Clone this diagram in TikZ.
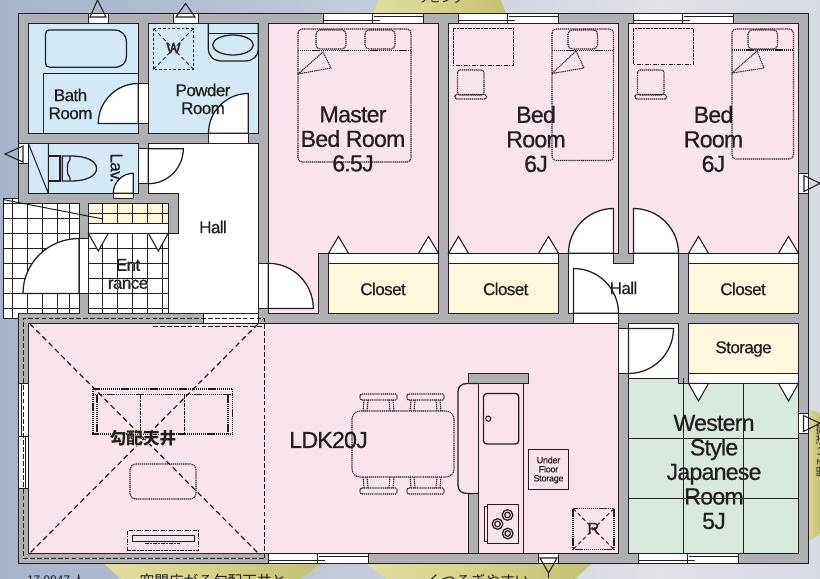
\documentclass[tikz,border=0pt]{standalone}
\usepackage{fontspec}
\setmainfont{Liberation Sans}
\newfontfamily\cjk{Noto Sans CJK JP}
\usetikzlibrary{calc}
\definecolor{ink}{HTML}{231F20}
\definecolor{wallc}{HTML}{AEB0B3}
\definecolor{pinkc}{HTML}{F9E4EE}
\definecolor{bluec}{HTML}{D3E9F5}
\definecolor{yelc}{HTML}{FDF8DC}
\definecolor{grnc}{HTML}{D9E8DD}
\definecolor{bga}{HTML}{8E9DBC}
\definecolor{bgb}{HTML}{AFBACE}
\definecolor{bgc}{HTML}{DFE1E6}
\definecolor{bgd}{HTML}{D3D7E0}
\definecolor{bge}{HTML}{A3B1CA}
\definecolor{bla}{HTML}{EEEBB4}
\definecolor{blb}{HTML}{D4D28C}
\definecolor{blc}{HTML}{B0AE55}
\pgfdeclarehorizontalshading{bgshade}{100bp}{color(0bp)=(bga); color(33bp)=(bgb); color(65bp)=(bgc); color(80bp)=(bgd); color(100bp)=(bge)}
\pgfdeclarehorizontalshading{blobshade}{100bp}{color(0bp)=(bla); color(50bp)=(blb); color(100bp)=(blc)}
\tikzset{
 x=0.75pt,y=-0.75pt,
 room/.style={draw=ink,line width=0.75pt},
 thin line/.style={draw=ink,line width=0.6pt},
 doorleaf/.style={draw=ink,fill=white,line width=0.95pt},
 tri/.style={draw=ink,fill=white,line width=0.8pt,line join=miter},
 furn/.style={draw=ink,line width=0.8pt,dash pattern=on 0.9pt off 0.55pt},
 dashdot/.style={draw=ink,line width=0.6pt,dash pattern=on 3pt off 1pt on 1pt off 1pt},
 slope/.style={draw=ink,line width=0.9pt,dash pattern=on 4pt off 2.6pt},
 dash thin/.style={draw=ink,line width=0.6pt,dash pattern=on 3.6pt off 1.6pt},
 lbl/.style={text=ink,align=center,inner sep=0pt,font=\fontsize{17.4}{18.4}\selectfont\addfontfeature{LetterSpace=-3.5,FakeBold=0.55}},
 sml/.style={text=ink,align=center,inner sep=0pt,font=\fontsize{12.8}{13.5}\selectfont\addfontfeature{LetterSpace=-3.5,FakeBold=0.55}},
 tinylbl/.style={text=ink,align=center,inner sep=0pt,font=\fontsize{6.8}{6.8}\selectfont\addfontfeature{LetterSpace=-3,FakeBold=0.4}},
}
\newcommand\doorq[6]{\path[doorleaf] (#1,#2) -- (#3,#4) .. controls ({#3+.5523*(#5-#1)},{#4+.5523*(#6-#2)}) and ({#5+.5523*(#3-#1)},{#6+.5523*(#4-#2)}) .. (#5,#6) -- cycle;}
\newcommand\winh[3]{\path[room,fill=white] (#1,#3) rectangle (#2,#3+10);
 \pgfmathsetmacro\wm{(#1+#2)/2}
 \draw[thin line] (#1,#3+7.3) -- (\wm+6,#3+7.3) (\wm,#3+2.8) -- (#2,#3+2.8) (\wm-1,#3) -- (\wm-1,#3+10);}
\newcommand\rrect[5]{\draw[furn,rounded corners=#5] (#1,#2) rectangle (#3,#4);}
\newcommand\desk[3]{\draw[dashdot] (#1,28) rectangle (#1+60,#3);
 \rrect{#2}{70}{#2+26.5}{95}{2pt}
 \rrect{#2-2.5}{94.5}{#2+29}{99}{1pt}}
\begin{document}
\begin{tikzpicture}
\useasboundingbox (0,0) rectangle (820,578);
\clip (0,0) rectangle (820,578);
% backdrop
\shade[shading=bgshade] (0,0) rectangle (820,578);
\shade[shading=blobshade] (379,-1) -- (372,16) -- (507,16) -- (500,-1) -- cycle;
\shade[shading=blobshade] (100,560) -- (121,579) -- (300,579) -- (326,560) -- cycle;
\shade[shading=blobshade] (361,560) -- (386,579) -- (575,579) -- (595,560) -- cycle;
\shade[shading=blobshade] (800,408) .. controls (812,408) and (818,412) .. (821,416) -- (821,532) .. controls (816,538) and (810,541) .. (800,542) -- cycle;
% clipped sales copy
\node[text=ink,inner sep=0pt,font=\fontsize{11}{11}\selectfont\cjk] (t1) at (213,581) {空間広がる勾配天井と};
\node[text=ink,inner sep=0pt,font=\fontsize{11}{11}\selectfont\cjk] (t2) at (478,581) {くつろぎやすい};
\node[text=ink,inner sep=0pt,font=\fontsize{9}{9}\selectfont\cjk] (t3) at (56,580) {17.9947 人};
\node[text=ink,inner sep=0pt,font=\fontsize{9}{9}\selectfont\cjk] (t4) at (441,-2) {リビング};
\node[text=ink,inner sep=0pt,rotate=90,font=\fontsize{8}{8}\selectfont\cjk] (t5) at (821,451) {明るい洋室};
% walls
\path[fill=wallc,draw=ink,line width=0.85pt] (18.5,13.3) rectangle (808.5,563.3);
% porch tiles
\path[room,fill=white] (3,198) -- (18.5,198) -- (18.5,203) -- (79,203) -- (79,313) -- (18.5,313) -- (18.5,318) -- (3,318) -- cycle;
\begin{scope}
\clip (3,198) -- (18.5,198) -- (18.5,203) -- (79,203) -- (79,313) -- (18.5,313) -- (18.5,318) -- (3,318) -- cycle;
\foreach \xx in {12.5,27.5,42.5,57.5,69} \draw[thin line] (\xx,198) -- (\xx,318);
\foreach \yy in {203,218,233,248,263,278,293,308} \draw[thin line] (3,\yy) -- (79,\yy);
\end{scope}
% upper left rooms
\path[room,fill=bluec] (28.3,23.3) rectangle (138.3,133.3);
\path[room,fill=bluec] (148.3,23.3) rectangle (258.6,133.3);
\path[room,fill=bluec] (28.3,143.3) rectangle (138.3,193.3);
\path[room,fill=white] (148.3,143.3) -- (258.6,143.3) -- (258.6,313.3) -- (168.3,313.3) -- (168.3,233.3) -- (178.3,233.3) -- (178.3,193.3) -- (148.3,193.3) -- cycle;
% bedrooms
\path[room,fill=pinkc] (268.3,23.3) -- (438.5,23.3) -- (438.5,253.3) -- (318.5,253.3) -- (318.5,313.3) -- (268.3,313.3) -- cycle;
\path[room,fill=pinkc] (448.5,23.3) rectangle (618.5,253.3);
\path[room,fill=pinkc] (628.5,23.3) rectangle (798.5,253.3);
% closets
\foreach \xa/\xb in {328.5/438.5,448.5/558.5,688.5/798.5}{
 \path[room,fill=white] (\xa,253.3) rectangle (\xb,263.3);
 \path[room,fill=yelc] (\xa,263.3) rectangle (\xb,313.3);
}
% hall right
\path[room,fill=white] (568.5,263.3) rectangle (678.5,313.3);
\path[fill=white] (569,253.5) rectangle (613.2,264);
\path[fill=white] (633.8,253.5) rectangle (678,264);
\draw[thin line] (568.5,253.3) -- (568.5,263.3) (613.5,253.3) -- (613.5,263.3) (633.5,253.3) -- (633.5,263.3) (678.5,253.3) -- (678.5,263.3);
% entrance
\path[room,fill=white] (88.3,203.3) rectangle (168.3,313.3);
\path[room,fill=yelc] (88.3,203.3) rectangle (168.3,223.3);
\foreach \xx in {102.7,117.7,132.7,147.7,162.7}{
 \draw[thin line] (\xx,203.3) -- (\xx,223.3);
 \draw[thin line] (\xx,233.3) -- (\xx,313.3);}
\draw[thin line] (88.3,213.3) -- (168.3,213.3);
\draw[thin line] (88.3,233.3) -- (168.3,233.3);
\foreach \yy in {248,263,278,293,308} \draw[thin line] (88.3,\yy) -- (168.3,\yy);
\draw[room] (3,199.5) -- (103,219);
% LDK
\path[room,fill=pinkc] (28.3,323.3) rectangle (618.5,553.3);
% storage and Japanese room
\path[room,fill=white] (628.5,323.3) -- (678.5,323.3) -- (678.5,378) -- (628.5,378) -- cycle;
\path[room,fill=white] (688.5,373.3) rectangle (798.5,383.3);
\path[room,fill=yelc] (688.5,323.3) rectangle (798.5,373.3);
\path[room,fill=grnc] (628.5,378) -- (678.5,378) -- (678.5,383.3) -- (798.5,383.3) -- (798.5,553.3) -- (628.5,553.3) -- cycle;
\draw[thin line] (683.5,383.3) -- (683.5,553.3) (743.5,383.3) -- (743.5,553.3) (628.5,438) -- (798.5,438) (628.5,498) -- (798.5,498);
\draw[thin line] (683.5,378) -- (683.5,383.3);
% wall openings
\path[room,fill=white] (88.5,13.3) rectangle (108.5,23.3);
\path[room,fill=white] (173.5,13.3) rectangle (198.5,23.3);
\path[tri,fill=none] (90,17) -- (97.5,0) -- (106,17) -- cycle;
\path[tri,fill=none] (176,17) -- (185.5,3.5) -- (195,17) -- cycle;
\path[room,fill=white] (18.5,143.3) rectangle (28.3,163.3);
\path[tri,fill=none] (23,146) -- (5,154) -- (23,162) -- cycle;
\path[room,fill=white] (138.3,83.5) rectangle (148.3,123.5);
\path[room,fill=white] (138.3,148.5) rectangle (148.3,183.5);
\path[room,fill=white] (208.5,133.3) rectangle (248.3,143.3);
\path[room,fill=white] (79,238.5) rectangle (88.3,293.5);
\path[room,fill=white] (258.6,263.3) rectangle (268.3,308.5);
\path[room,fill=yelc] (113.3,193.3) rectangle (133.3,198.5);
\winh{323.5}{423.5}{13.3}
\winh{458.5}{558.5}{13.3}
\winh{633.5}{733.5}{13.3}
\winh{268.5}{368.5}{553.3}
\winh{638.5}{738.5}{553.3}
% LDK top strip window, left window
\path[room,fill=white] (203.5,313.3) rectangle (258.6,323.3);
\path[room,fill=white] (18.5,383.3) rectangle (28.3,488.3);
\draw[thin line] (21,383.3) -- (21,436) (25.5,436) -- (25.5,488.3) (18.5,436.3) -- (28.3,436.3);
% right windows
\path[room,fill=white] (798.5,173.3) rectangle (808.5,193.3);
\path[tri,fill=none] (804,175.5) -- (820,183.3) -- (804,191.5) -- cycle;
\path[room,fill=white] (798.5,413.3) rectangle (808.5,433.3);
\path[tri,fill=none] (803.5,415.5) -- (820,423.3) -- (803.5,431.5) -- cycle;
% kitchen bottom window
\path[room,fill=white] (538.5,553.3) rectangle (558.5,563.3);
\path[tri,fill=none] (540,558) -- (557,558) -- (548.5,573) -- cycle;
\draw[tri] (548.5,573) -- (548.5,578);
% doors
\doorq{138.3}{123.5}{138.3}{83.5}{98.3}{123.5}
\doorq{148.3}{148.7}{183.3}{148.7}{148.3}{183.7}
\doorq{248.3}{133.3}{248.3}{93.5}{208.5}{133.3}
\doorq{133.3}{193.3}{133.3}{173.3}{113.3}{193.3}
\doorq{79}{293.5}{79}{238.5}{23}{293.5}
\doorq{268.3}{308.5}{268.3}{263.3}{313.3}{308.5}
\doorq{613.5}{253.3}{613.5}{208.5}{568.5}{253.3}
\doorq{633.5}{253.3}{633.5}{208.5}{678.5}{253.3}
\path[fill=white] (574,313) rectangle (618,323);
\draw[thin line] (573.5,313) -- (573.5,323.3) (618.5,313) -- (618.5,323.3);
\doorq{573.5}{313.3}{573.5}{268.5}{618.5}{313.3}
\path[room,fill=white] (618.5,328.5) rectangle (628.5,373.5);
\doorq{628.5}{328.5}{673.5}{328.5}{628.5}{373.5}
% triangles
\foreach \xa in {328.5,418.5,448.5,538.5,688.5,778.5}
 \path[tri] (\xa,253.3) -- (\xa+10,236.5) -- (\xa+20,253.3) -- cycle;
\foreach \xa in {88.3,148.3}
 \path[tri] (\xa,233.3) -- (\xa+10,251) -- (\xa+20,233.3) -- cycle;
\foreach \xa in {688.5,778.5}
 \path[tri] (\xa,383.3) -- (\xa+10,401) -- (\xa+20,383.3) -- cycle;
% bath fixtures
\draw[room,line width=0.95pt] (49,30) -- (114,30) .. controls (122,30) and (126.5,35) .. (126.5,43) -- (126.5,56) .. controls (126.5,63) and (122,67.3) .. (114,67.3) -- (50,67.3) .. controls (47,67.3) and (45.5,65.5) .. (45.5,63) -- (45.5,34) .. controls (45.5,31.5) and (47,30) .. (49,30) -- cycle;
\draw[thin line] (43.5,133.3) -- (43.5,73.3) -- (138.3,73.3);
% washer
\draw[dashdot,dash pattern=on 2pt off 1.5pt,line width=.9pt] (153.5,28.5) rectangle (193.5,69.3);
\draw[dashdot,dash pattern=on 3pt off 2pt] (153.5,28.5) -- (193.5,69.3) (193.5,28.5) -- (153.5,69.3);
% washbasin
\draw[room,line width=0.95pt] (208.3,23.3) -- (208.3,48) .. controls (208.3,56) and (213,61) .. (222,61) -- (245,61) .. controls (253,61) and (258.3,56) .. (258.3,49) -- (258.3,23.3);
\draw[thin line] (208.3,33.5) -- (258.3,33.5);
\draw[room,line width=0.95pt] (233,45) ellipse [x radius=20.3,y radius=10];
% toilet
\draw[room] (28.3,143.3) -- (48.3,193.3) (48.3,143.3) -- (48.3,193.3);
\draw[room,line width=0.95pt] (48.3,156) rectangle (60,181);
\draw[room,line width=0.95pt] (62.3,156) -- (72,156) .. controls (86,156) and (96.6,161) .. (96.6,168.5) .. controls (96.6,176) and (86,181) .. (72,181) -- (62.3,181) -- cycle;
\draw[room,line width=0.95pt] (70,156) .. controls (71,162) and (67.5,160) .. (67.5,166) -- (67.5,172) .. controls (67.5,177) and (71,175) .. (70,181);
% beds
\rrect{298}{29}{411}{162}{3pt}
\draw[furn] (298,50.5) -- (411,50.5);
\rrect{316}{30}{346}{49}{3pt}
\rrect{365}{30}{395}{49}{3pt}
\draw[furn] (298,74) -- (323,52) -- (331,68) -- cycle;
\rrect{552}{29}{613.5}{160.5}{3pt}
\draw[furn] (552,50.5) -- (613.5,50.5);
\rrect{568}{30}{597.5}{49}{3pt}
\draw[furn] (552,73.5) -- (576,51) -- (584,68) -- cycle;
\rrect{732}{29}{793.5}{159}{3pt}
\draw[furn] (732,50) -- (793.5,50);
\rrect{748}{30}{777.5}{49}{3pt}
\draw[furn] (732,73) -- (757,51) -- (764,68) -- cycle;
\desk{453}{457.5}{65.5}
\desk{633}{637.5}{64.5}
% slope ceiling
\draw[dash thin] (153,326.3) -- (264,326.3);
\draw[dash thin] (264,558) -- (264,318) -- (23,318) -- (23,558) -- (264,558);
\draw[slope] (30,324) -- (260,555);
\draw[slope] (258,324) -- (28,555);
% sofa, table, tv
\draw[furn] (93,389) rectangle (232.5,434);
\draw[furn] (93,394.5) -- (232.5,394.5) (97,394.5) -- (97,434) (228,394.5) -- (228,434);
\draw[dashdot] (140.7,395) -- (140.7,434) (184.7,395) -- (184.7,434);
\rrect{130}{464}{196}{499}{4pt}
\draw[dashdot] (127.5,530.5) rectangle (198.6,550);
\draw[thin line] (132.5,535.5) rectangle (194,541);
\draw[dashdot] (145,543.5) -- (180,543.5);
% dining
\rrect{352}{411}{454}{477}{6pt}
\foreach \xa in {360,407}{
 \rrect{\xa}{394}{\xa+37}{400}{1pt}
 \draw[furn] (\xa+4,400) -- (\xa+3,411) (\xa+8,400) -- (\xa+7,411) (\xa+29,400) -- (\xa+30,411) (\xa+33,400) -- (\xa+34,411);
 \rrect{\xa}{488}{\xa+37}{494}{1pt}
 \draw[furn] (\xa+4,488) -- (\xa+3,477) (\xa+8,488) -- (\xa+7,477) (\xa+29,488) -- (\xa+30,477) (\xa+33,488) -- (\xa+34,477);
}
% kitchen
\path[fill=wallc,draw=ink,line width=.8pt] (468.5,373.5) rectangle (528.5,383.5);
\path[fill=wallc,draw=ink,line width=.8pt] (468.5,493.5) rectangle (478.5,553.3);
\draw[room,fill=pinkc,line width=0.95pt] (478.5,383.5) -- (467,383.5) .. controls (461,383.5) and (458,387) .. (458,392) -- (458,485) .. controls (458,490) and (461,493.5) .. (467,493.5) -- (478.5,493.5);
\draw[room] (478.5,383.5) -- (478.5,553.3) (523.5,383.5) -- (523.5,553.3);
\draw[room,line width=0.95pt,rounded corners=2.5pt] (483.5,393.5) rectangle (518.8,444);
\draw[room] (488.3,418.7) circle [radius=2.6];
\draw[room] (484.5,506) rectangle (487.5,541.5);
\draw[room,fill=pinkc] (487.5,504) rectangle (518.5,543.5);
\foreach \cx/\cy in {507.5/515,497.5/524,507.7/533.5}{
 \draw[room,line width=0.95pt] (\cx,\cy) circle [radius=5.3];
 \draw[room,line width=.9pt] (\cx,\cy) circle [radius=2.8];}
% under floor + R
\draw[room] (528.5,449.5) rectangle (568.7,489.5);
\draw[furn] (573,508.5) rectangle (614,549.5);
\draw[dashdot,dash pattern=on 3pt off 2pt] (573,508.5) -- (614,549.5) (614,508.5) -- (573,549.5);
% labels
\node[lbl,font=\fontsize{11.4}{11.4}\selectfont\addfontfeature{FakeBold=.8}] (nw) at (173.5,48) {W};
\node[lbl,font=\fontsize{12.2}{12.2}\selectfont\addfontfeature{FakeBold=.4}] (nr) at (593.5,528.5) {R};
\node[sml] (bath) at (70.5,104) {Bath\\Room};
\node[sml] (powder) at (203,99) {Powder\\Room};
\node[sml,rotate=-90] (lav) at (116.5,168) {Lav.};
\node[sml] (hall1) at (213,227) {Hall};
\node[sml] (hall2) at (623.5,288) {Hall};
\node[sml,text=white,font=\fontsize{12.8}{13.5}\selectfont\addfontfeature{LetterSpace=-3.5,FakeBold=3}] (enth) at (128,274) {Ent\\rance};
\node[sml] (ent) at (128,274) {Ent\\rance};
\node[sml] (c1) at (383,289) {Closet};
\node[sml] (c2) at (505.7,289) {Closet};
\node[sml] (c3) at (743,289) {Closet};
\node[sml] (st) at (743.5,349) {Storage};
\node[lbl] (m) at (353,139) {Master\\Bed Room\\6.5J};
\node[lbl] (b2) at (536,139) {Bed\\Room\\6J};
\node[lbl] (b3) at (713.5,139) {Bed\\Room\\6J};
\node[lbl] (w) at (714,472) {Western\\Style\\Japanese\\Room\\5J};
\node[lbl] (ldk) at (328.5,440) {LDK20J};
\node[tinylbl] (uf) at (548.5,470) {Under\\Floor\\Storage};
\node[text=yelc,inner sep=0pt,font=\fontsize{12.4}{12.4}\selectfont\cjk\bfseries\addfontfeature{FakeBold=3}] (kh) at (143,438) {勾配天井};
\node[text=ink,inner sep=0pt,font=\fontsize{12.4}{12.4}\selectfont\cjk\bfseries] (k) at (143,438) {勾配天井};
\end{tikzpicture}
\end{document}
